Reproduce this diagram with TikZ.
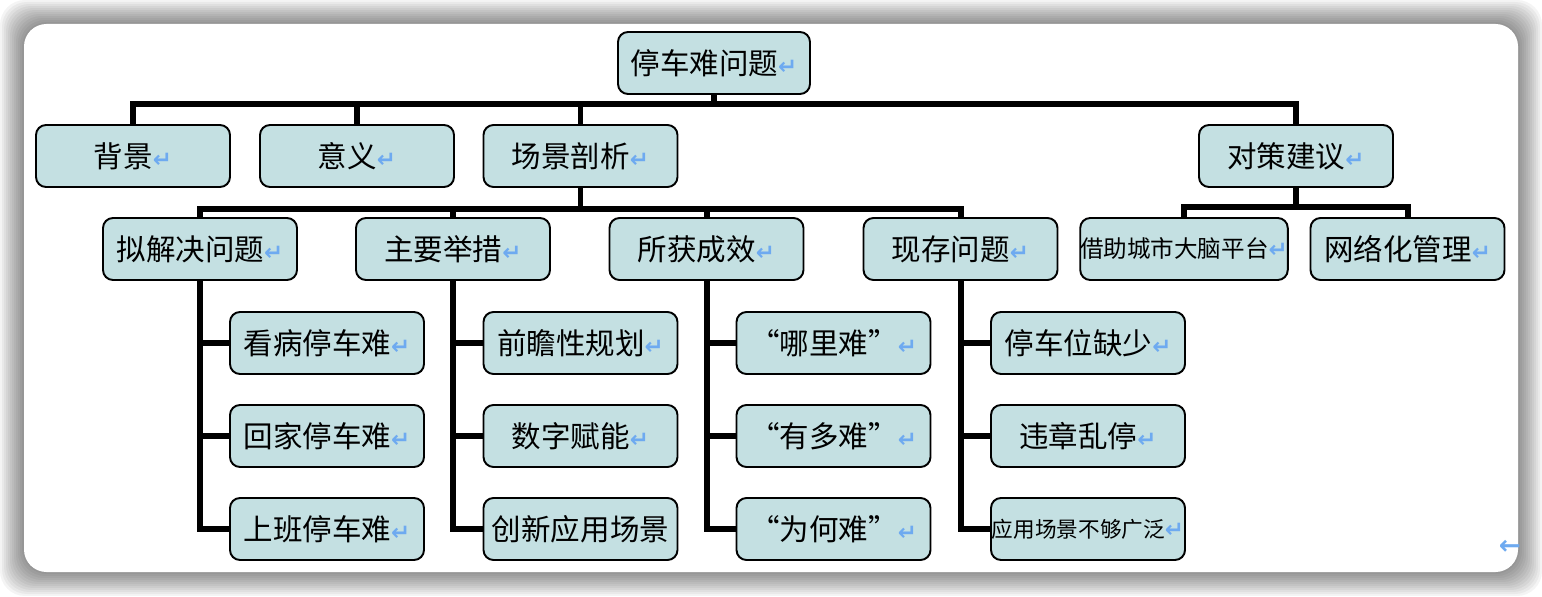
\documentclass[tikz,border=0pt]{standalone}
\usepackage{fontspec}
\setmainfont{Noto Sans CJK SC}
\newfontfamily\retfont{DejaVu Sans}
\usetikzlibrary{positioning, calc}
\definecolor{boxfill}{RGB}{196,224,226}
\definecolor{retblue}{RGB}{110,170,240}
\newcommand{\ret}{{\retfont\bfseries\color{retblue}\fontsize{13}{13}\selectfont ↵}}

\begin{document}
\begin{tikzpicture}[
    box/.style={draw, line width=1.1pt, rounded corners=0.2cm, fill=boxfill,
      minimum width=3.88cm, minimum height=1.24cm, inner sep=0pt,
      font=\fontsize{16.8}{16.8}\selectfont},
    conn/.style={line width=3.4pt, line join=miter}
  ]
    \useasboundingbox (0,0) rectangle (30.84,11.92);

    % frame
    \foreach \k in {1,...,12}
        \fill[black, opacity=0.045, rounded corners=0.5cm]
            ({0.48-0.04*\k},{0.48-0.04*\k}) rectangle ({30.36+0.04*\k},{11.44+0.04*\k});
    \fill[white, rounded corners=0.45cm] (0.48,0.48) rectangle (30.36,11.44);

    \node[box, minimum width=3.84cm] (root) at (14.28,10.66) {停车难问题\ret};

    \node[box] (bg) at (2.66,8.80)  {背景\ret};
    \node[box] (yy) at (7.14,8.80)  {意义\ret};
    \node[box] (cj) at (11.61,8.80) {场景剖析\ret};
    \node[box] (dc) at (25.92,8.80) {对策建议\ret};

    \node[box] (nj) at (4.00,6.94)  {拟解决问题\ret};
    \node[box] (zy) at (9.06,6.94)  {主要举措\ret};
    \node[box] (sh) at (14.13,6.94) {所获成效\ret};
    \node[box] (xc) at (19.21,6.94) {现存问题\ret};
    \node[box, font=\fontsize{13.4}{13.4}\selectfont] (jz) at (23.68,6.94) {借助城市大脑平台\ret};
    \node[box] (wl) at (28.15,6.94) {网络化管理\ret};

    \node[box] (nj1) at (6.54,5.06) {看病停车难\ret};
    \node[box] (nj2) at (6.54,3.20) {回家停车难\ret};
    \node[box] (nj3) at (6.54,1.34) {上班停车难\ret};

    \node[box] (zy1) at (11.61,5.06) {前瞻性规划\ret};
    \node[box] (zy2) at (11.61,3.20) {数字赋能\ret};
    \node[box] (zy3) at (11.61,1.34) {创新应用场景};

    \node[box] (sh1) at (16.67,5.06) {“哪里难”\ret};
    \node[box] (sh2) at (16.67,3.20) {“有多难”\ret};
    \node[box] (sh3) at (16.67,1.34) {“为何难”\ret};

    \node[box] (xc1) at (21.76,5.06) {停车位缺少\ret};
    \node[box] (xc2) at (21.76,3.20) {违章乱停\ret};
    \node[box, font=\fontsize{12.3}{12.3}\selectfont] (xc3) at (21.76,1.34) {应用场景不够广泛\ret};

    \node[text=retblue, font=\retfont\bfseries\fontsize{15}{15}\selectfont] (mark) at (30.2,0.98) {←};

    % connectors
    \foreach \c in {bg, yy, cj, dc}
        \draw[conn] (root.south) -- ++(0,-0.18) -| (\c.north);
    \foreach \c in {nj, zy, sh, xc}
        \draw[conn] (cj.south) -- ++(0,-0.42) -| (\c.north);
    \foreach \c in {jz, wl}
        \draw[conn] (dc.south) -- ++(0,-0.38) -| (\c.north);
    \foreach \p in {nj, zy, sh, xc}
        \foreach \i in {1,2,3}
            \draw[conn] (\p.south) |- (\p\i.west);
\end{tikzpicture}
\end{document}
